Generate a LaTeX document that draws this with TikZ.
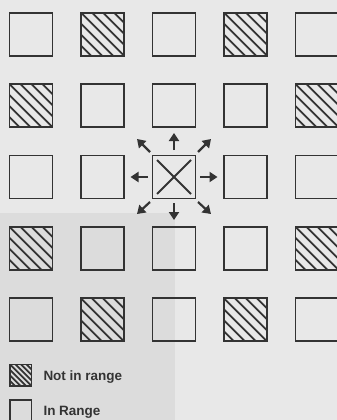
\documentclass[tikz,border=0pt]{standalone}
\usepackage{fontspec}
\newfontfamily\legendfont{Liberation Sans}
\usetikzlibrary{arrows.meta,calc}
\definecolor{ink}{HTML}{333333}
\definecolor{paper}{HTML}{E8E8E8}
\definecolor{paperdark}{HTML}{DCDCDC}
\tikzset{
  cell/.style={draw=ink, line width=1.7pt, minimum size=43pt, inner sep=0pt, outer sep=0pt},
  smallcell/.style={draw=ink, line width=1.4pt, minimum size=21.7pt, inner sep=0pt, outer sep=0pt},
  hatch/.style={path picture={\foreach \k in {-4,...,4}{\draw[ink, line width=1.8pt] ($(path picture bounding box.north west)+(\k*#1-10,-10)$) -- ++(80,80);}}},
  arr/.style={draw=ink, line width=2.2pt, -{Triangle[length=8pt,width=10pt]}},
  crossline/.style={draw=ink, line width=1.8pt},
  legtext/.style={text=ink, font=\legendfont\bfseries\fontsize{13.5pt}{16pt}\selectfont, inner sep=0pt, anchor=base west}
}
\begin{document}
\begin{tikzpicture}[x=1pt,y=-1pt]
\useasboundingbox (0,0) rectangle (337,420);
\clip (0,0) rectangle (337,420);
\fill[paper] (0,0) rectangle (337,420);
\fill[paperdark] (0,213) rectangle (175,420);
% row 1
\node[cell] (r1c1) at (31,34.2) {};
\node[cell,hatch=11] (r1c2) at (102.5,34.2) {};
\node[cell] (r1c3) at (174,34.2) {};
\node[cell,hatch=11] (r1c4) at (245.5,34.2) {};
\node[cell] (r1c5) at (317,34.2) {};
% row 2
\node[cell,hatch=11] (r2c1) at (31,105.6) {};
\node[cell] (r2c2) at (102.5,105.6) {};
\node[cell] (r2c3) at (174,105.6) {};
\node[cell] (r2c4) at (245.5,105.6) {};
\node[cell,hatch=11] (r2c5) at (317,105.6) {};
% row 3
\node[cell] (r3c1) at (31,177) {};
\node[cell] (r3c2) at (102.5,177) {};
\node[cell] (ctr) at (174,177) {};
\node[cell] (r3c4) at (245.5,177) {};
\node[cell] (r3c5) at (317,177) {};
% row 4
\node[cell,hatch=11] (r4c1) at (31,248.4) {};
\node[cell] (r4c2) at (102.5,248.4) {};
\node[cell] (r4c3) at (174,248.4) {};
\node[cell] (r4c4) at (245.5,248.4) {};
\node[cell,hatch=11] (r4c5) at (317,248.4) {};
% row 5
\node[cell] (r5c1) at (31,319.8) {};
\node[cell,hatch=11] (r5c2) at (102.5,319.8) {};
\node[cell] (r5c3) at (174,319.8) {};
\node[cell,hatch=11] (r5c4) at (245.5,319.8) {};
\node[cell] (r5c5) at (317,319.8) {};
% cross in centre
\draw[crossline] ($(ctr.north west)+(4.5,4.5)$) -- ($(ctr.south east)+(-4.5,-4.5)$);
\draw[crossline] ($(ctr.north east)+(-4.5,4.5)$) -- ($(ctr.south west)+(4.5,-4.5)$);
% arrows
\draw[arr] ($(ctr)+(0,-27)$) -- ($(ctr)+(0,-44)$);
\draw[arr] ($(ctr)+(0,26)$) -- ($(ctr)+(0,43)$);
\draw[arr] ($(ctr)+(26,0)$) -- ($(ctr)+(43.5,0)$);
\draw[arr] ($(ctr)+(-26,0)$) -- ($(ctr)+(-43.5,0)$);
\draw[arr] ($(ctr)+(24,-25)$) -- ($(ctr)+(37,-38)$);
\draw[arr] ($(ctr)+(-24,-25)$) -- ($(ctr)+(-37,-38)$);
\draw[arr] ($(ctr)+(24,25)$) -- ($(ctr)+(37,37)$);
\draw[arr] ($(ctr)+(-24,25)$) -- ($(ctr)+(-37,37)$);
% legend
\node[smallcell,hatch=5.5] (lhatch) at (20.85,375.2) {};
\node[legtext] (lnot) at (43.3,380) {Not in range};
\node[smallcell] (lplain) at (20.85,410.85) {};
\node[legtext] (lin) at (43.3,415) {In Range};
\end{tikzpicture}
\end{document}
